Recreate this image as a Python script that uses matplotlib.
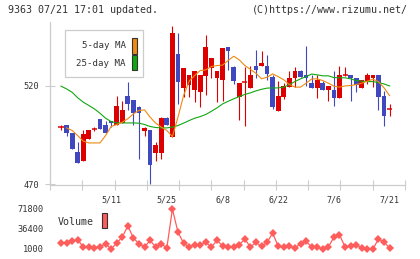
import matplotlib
matplotlib.use('Agg')
import matplotlib.pyplot as plt
from matplotlib.patches import Rectangle
import numpy as np

"""## Data (read off the reference chart)"""

# Daily candles, oldest first (60 trading days)
opens = [499.0, 500.3, 496.1, 486.2, 481.8, 493.1, 498.1, 503.2, 500.3, 502.3,
         500.1, 501.1, 514.9, 512.9, 509.4, 497.1, 497.3, 485.8, 485.8, 503.5,
         494.2, 536.0, 518.7, 520.5, 517.5, 516.6, 524.7, 528.8, 523.7, 522.9,
         539.4, 529.3, 514.4, 521.7, 518.7, 530.1, 529.8, 530.1, 524.2, 507.0,
         514.4, 519.5, 523.7, 527.1, 525.1, 521.2, 518.7, 521.2, 517.5, 517.8,
         513.6, 525.1, 525.1, 523.9, 518.7, 522.5, 523.7, 525.1, 514.9, 508.2]
highs = [500.2, 500.3, 496.1, 491.4, 497.3, 497.3, 499.3, 503.2, 502.3, 502.3,
         514.9, 512.4, 522.0, 512.9, 509.9, 498.9, 497.3, 491.4, 504.3, 504.3,
         550.3, 546.4, 528.9, 525.1, 527.1, 525.1, 545.3, 534.0, 527.1, 539.0,
         539.4, 530.1, 521.2, 529.3, 530.1, 538.2, 537.2, 535.2, 525.1, 522.2,
         521.2, 527.2, 529.3, 527.9, 540.2, 525.1, 525.1, 522.5, 520.0, 527.1,
         530.1, 529.3, 525.1, 523.9, 522.9, 526.2, 525.1, 525.1, 517.1, 510.7]
lows = [497.3, 494.7, 488.0, 480.8, 481.8, 493.1, 496.8, 498.1, 495.9, 499.0,
        500.1, 501.1, 507.4, 500.1, 483.0, 494.7, 470.5, 481.8, 483.0, 500.1,
        494.2, 510.7, 514.4, 514.4, 511.6, 509.4, 515.0, 523.7, 511.6, 512.4,
        527.6, 520.8, 502.8, 499.8, 518.7, 523.9, 529.8, 522.9, 508.2, 507.0,
        513.3, 519.5, 519.5, 524.5, 519.7, 518.7, 513.6, 517.5, 512.4, 509.6,
        513.6, 524.6, 512.4, 516.6, 518.7, 520.8, 519.5, 507.7, 499.8, 504.8]
closes = [499.0, 495.9, 488.0, 480.8, 495.3, 497.3, 498.1, 498.1, 495.9, 501.1,
          509.9, 507.4, 510.7, 506.2, 506.2, 498.4, 479.6, 490.2, 503.5, 500.1,
          546.4, 521.7, 528.9, 525.1, 527.1, 525.1, 539.4, 534.0, 527.1, 539.0,
          537.7, 522.5, 521.2, 521.7, 525.1, 527.6, 531.3, 525.9, 509.4, 514.9,
          520.0, 523.9, 527.1, 524.5, 523.7, 518.7, 522.9, 517.5, 520.0, 513.6,
          525.1, 525.1, 523.7, 520.5, 522.9, 525.1, 525.1, 514.4, 504.8, 508.2]

# Moving averages as drawn on the chart
ma5 = [np.nan, 498.6, 497.3, 494.7, 491.9, 491.0, 491.0, 491.0, 494.7, 499.3,
       500.3, 501.5, 503.2, 505.7, 507.4, 507.7, 504.0, 501.0, 499.0, 497.3,
       494.2, 504.0, 514.9, 522.2, 525.1, 527.6, 527.9, 529.6, 530.1, 530.3,
       532.6, 534.8, 533.0, 530.1, 528.2, 526.2, 523.4, 524.2, 525.9, 524.5,
       522.9, 520.5, 519.2, 519.2, 521.2, 523.3, 523.4, 522.5, 521.2, 519.7,
       519.2, 519.8, 520.0, 520.5, 521.2, 522.2, 523.2, 522.0, 518.8, 514.9]
ma25 = [519.7, 518.3, 516.6, 513.8, 511.6, 509.9, 508.2, 506.0, 503.5, 501.8,
        501.1, 501.1, 501.1, 501.1, 501.0, 500.3, 499.3, 498.8, 498.6, 498.6,
        499.0, 499.8, 501.0, 502.3, 503.5, 504.3, 505.4, 507.0, 508.7, 510.7,
        512.0, 513.3, 514.4, 515.5, 516.3, 517.3, 518.1, 518.7, 518.8, 518.8,
        519.2, 520.5, 522.0, 523.4, 524.5, 525.8, 525.4, 524.9, 524.9, 524.0,
        523.9, 523.9, 523.4, 522.5, 522.2, 522.0, 522.0, 521.5, 520.8, 519.8]

volumes = [11500, 11500, 14500, 17400, 4500, 4500, 2800, 4500, 10400, 1000,
           11500, 22100, 42000, 20300, 10400, 4500, 16200, 4500, 10400, 2800,
           71800, 30800, 11500, 4500, 8600, 8600, 12700, 4500, 16200, 6900,
           4500, 4500, 8600, 18600, 4500, 12700, 5700, 12700, 29100, 5700,
           4500, 5700, 2800, 10400, 14500, 4500, 4500, 1000, 4500, 22100,
           26200, 4500, 5700, 8600, 2800, 1000, 1000, 18600, 12700, 2800]

date_labels = ['5/11', '5/25', '6/8', '6/22', '7/6', '7/21']
date_label_idx = [9, 19, 29, 39, 49, 59]
price_ticks = [470, 520]
volume_ticks = [1000, 36400, 71800]

"""## Style"""

W, H = 420, 259
RED = '#dd0000'
BLUE = '#4048c0'
ORANGE = '#f08a10'
GREEN = '#10a810'
AXIS_GRAY = '#cccccc'
TEXT = '#333333'
VOL_RED = '#ff5c5c'
MONO = 'DejaVu Sans Mono'

plt.rcParams['font.family'] = MONO

def figRect(left, top, right, bottom):
  """pixel box (origin top-left) -> figure fraction [l, b, w, h]"""
  return [left / W, 1 - bottom / H, (right - left) / W, (bottom - top) / H]

fig = plt.figure(figsize=(W / 100, H / 100), dpi=100)

n = len(closes)
x = np.arange(n)
xlim = (-1.975, 61.76)

"""## Price panel"""

ax = fig.add_axes(figRect(50, 22, 405, 184.5))
ax.set_xlim(*xlim)
ax.set_ylim(470, 552.1)

for i in range(n):
  o, h, l, c = opens[i], highs[i], lows[i], closes[i]
  if o == c:
    # doji -> red cross
    ax.vlines(i, l, h, color=RED, linewidth=0.8, zorder=2)
    ax.hlines(o, i - 0.45, i + 0.45, color=RED, linewidth=1.1, zorder=2)
    continue
  col = RED if c > o else BLUE
  ax.vlines(i, l, h, color=col, linewidth=0.8, zorder=2)
  ax.bar(i, abs(c - o), bottom=min(o, c), width=0.85, color=col, linewidth=0, zorder=3)

ax.plot(x, ma25, color=GREEN, linewidth=0.8, zorder=4)
ax.plot(x, ma5, color=ORANGE, linewidth=0.8, zorder=4)

for side in ['top', 'right']:
  ax.spines[side].set_visible(False)
for side in ['left', 'bottom']:
  ax.spines[side].set_color(AXIS_GRAY)
  ax.spines[side].set_linewidth(0.9)

ax.set_yticks(price_ticks)
ax.set_yticklabels([str(t) for t in price_ticks])
ax.set_xticks(np.linspace(xlim[0], xlim[1], 12))
ax.set_xticklabels([])
ax.set_xticks(date_label_idx, minor=True)
ax.set_xticklabels(date_labels, minor=True)
ax.tick_params(axis='both', which='major', direction='inout', length=7, width=0.8,
               color=AXIS_GRAY, labelcolor=TEXT, labelsize=6.2, pad=4)
ax.tick_params(axis='x', which='minor', length=0, labelsize=6, labelcolor=TEXT, pad=8)

# Legend box
fig.patches.append(Rectangle((65 / W, 1 - 77 / H), 78 / W, 47 / H, transform=fig.transFigure,
                             facecolor='white', edgecolor=AXIS_GRAY, linewidth=0.9, zorder=5))
fig.text(126 / W, 1 - 46 / H, '5-day MA', ha='right', va='center', fontsize=6.6, color=TEXT, zorder=6)
fig.text(126 / W, 1 - 63.3 / H, '25-day MA', ha='right', va='center', fontsize=6.6, color=TEXT, zorder=6)
fig.patches.append(Rectangle((132 / W, 1 - 54 / H), 5 / W, 16.5 / H, transform=fig.transFigure,
                             facecolor=ORANGE, edgecolor='#333333', linewidth=0.8, zorder=6))
fig.patches.append(Rectangle((132 / W, 1 - 69.5 / H), 5 / W, 15 / H, transform=fig.transFigure,
                             facecolor=GREEN, edgecolor='#333333', linewidth=0.8, zorder=6))

"""## Volume panel"""

axv = fig.add_axes(figRect(50, 209, 405, 249))
axv.set_xlim(*xlim)
axv.set_ylim(1000, 71800)
axv.plot(x, volumes, color=VOL_RED, linewidth=0.9, marker='D', markersize=3.9,
         markeredgewidth=0, clip_on=False)
for side in axv.spines:
  axv.spines[side].set_visible(False)
axv.set_xticks([])
axv.set_yticks(volume_ticks)
axv.set_yticklabels([str(t) for t in volume_ticks])
axv.tick_params(axis='y', length=0, labelsize=6.2, labelcolor=TEXT, pad=4.5)

fig.text(58 / W, 1 - 222 / H, 'Volume', ha='left', va='center', fontsize=7.2, color=TEXT)
fig.patches.append(Rectangle((101.7 / W, 1 - 228 / H), 5.5 / W, 15 / H, transform=fig.transFigure,
                             facecolor=VOL_RED, edgecolor='#333333', linewidth=0.8))

"""## Header"""

fig.text(8 / W, 1 - 10 / H, '9363 07/21 17:01 updated.', ha='left', va='center',
         fontsize=7.2, color=TEXT)
fig.text(408 / W, 1 - 10 / H, '(C)https://www.rizumu.net/', ha='right', va='center',
         fontsize=7.2, color=TEXT)

fig.savefig('out.png', dpi=100)
